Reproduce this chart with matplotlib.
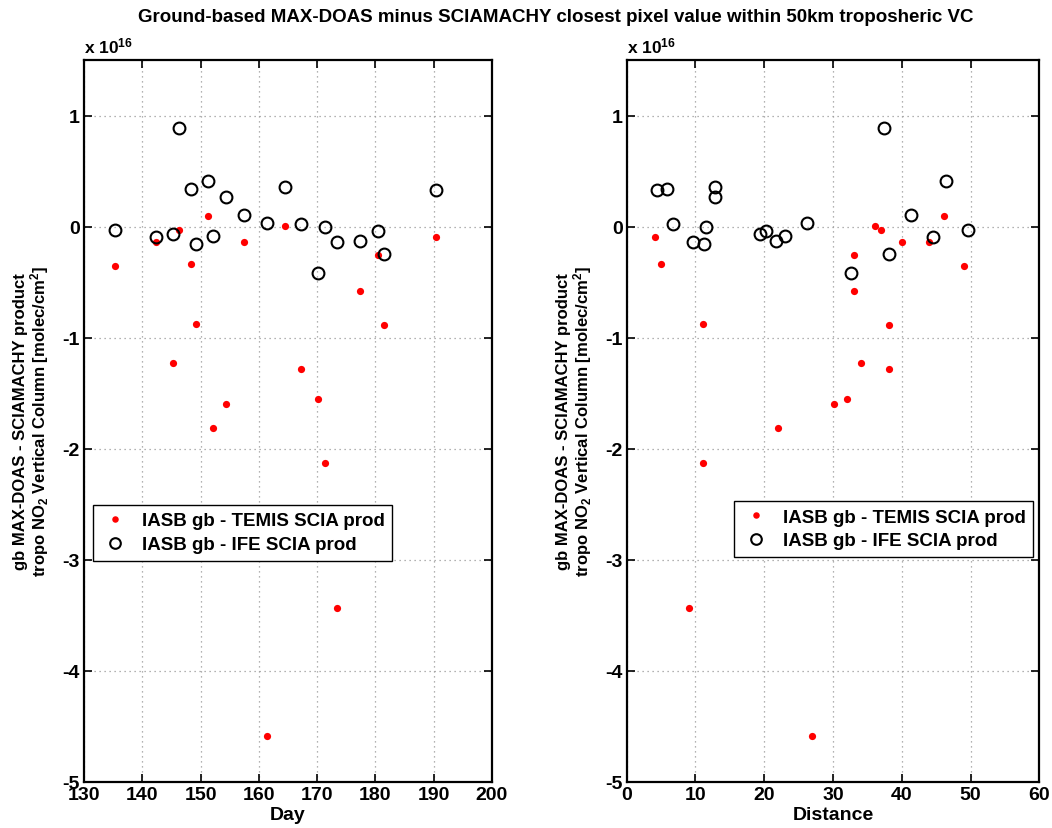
import matplotlib
matplotlib.use("Agg")
import matplotlib.pyplot as plt
import numpy as np

plt.rcParams['font.family'] = ['Liberation Sans', 'DejaVu Sans']
plt.rcParams['font.weight'] = 'bold'
plt.rcParams['axes.unicode_minus'] = False
plt.rcParams['mathtext.fontset'] = 'custom'
plt.rcParams['mathtext.rm'] = 'Liberation Sans:bold'
plt.rcParams['mathtext.bf'] = 'Liberation Sans:bold'
plt.rcParams['mathtext.it'] = 'Liberation Sans:bold'
plt.rcParams['mathtext.default'] = 'bf'

# ---- data (values in units of 1e16 molec/cm2) ----
days = [135.3, 142.35, 145.3, 146.35, 148.35, 149.3, 151.3, 152.2, 154.4, 157.4,
        161.45, 164.4, 167.3, 170.2, 171.3, 173.4, 177.4, 180.5, 181.4, 190.4]
temis_diff = [-0.357, -0.135, -1.23, -0.027, -0.34, -0.876, 0.096, -1.815, -1.593, -0.14,
              -4.587, 0.009, -1.285, -1.554, -2.13, -3.43, -0.58, -0.26, -0.885, -0.095]
ife_diff = [-0.03, -0.095, -0.07, 0.886, 0.34, -0.156, 0.41, -0.08, 0.27, 0.105,
            0.03, 0.355, 0.024, -0.417, 0.0, -0.14, -0.126, -0.036, -0.25, 0.33]
temis_dist = [49.05, 43.96, 34.07, 37.0, 5.04, 11.1, 46.14, 22.0, 30.2, 40.08,
              27.0, 36.06, 38.14, 32.03, 11.1, 9.06, 33.05, 33.05, 38.14, 4.11]
ife_dist = [49.68, 44.54, 19.38, 37.37, 5.9, 11.24, 46.43, 23.0, 12.77, 41.3,
            26.2, 12.84, 6.73, 32.57, 11.48, 9.69, 21.7, 20.3, 38.14, 4.45]

label_temis = 'IASB gb - TEMIS SCIA prod'
label_ife = 'IASB gb - IFE SCIA prod'
title = 'Ground-based MAX-DOAS minus SCIAMACHY closest pixel value within 50km troposheric VC'
ylabel = 'gb MAX-DOAS - SCIAMACHY product\ntropo NO$_2$ Vertical Column [molec/cm$^2$]'
yticks = [-5, -4, -3, -2, -1, 0, 1]
xticks_day = [130, 140, 150, 160, 170, 180, 190, 200]
xticks_dist = [0, 10, 20, 30, 40, 50, 60]

W, H = 1052, 829
fig = plt.figure(figsize=(W / 100, H / 100), dpi=100)
bottom = 1 - 783 / H
height = 722 / H
ax1 = fig.add_axes([84 / W, bottom, 408 / W, height])
ax2 = fig.add_axes([626.7 / W, bottom, 412.6 / W, height])

FS = 14

def style(ax, x_t, vals_t, x_i, vals_i, xlim, xticks, xlabel, leg_loc, leg_anchor):
    ax.plot(x_t, vals_t, 'o', color='#ff0000', markersize=5.2, markeredgewidth=0,
            linestyle='none', label=label_temis, zorder=3)
    ax.plot(x_i, vals_i, 'o', markerfacecolor='none', markeredgecolor='black',
            markersize=8.5, markeredgewidth=1.5, linestyle='none', label=label_ife, zorder=4)
    ax.set_xlim(*xlim)
    ax.set_ylim(-5, 1.5)
    ax.set_xticks(xticks)
    ax.set_xticklabels([str(t) for t in xticks])
    ax.set_yticks(yticks)
    ax.set_yticklabels([str(t) for t in yticks])
    ax.grid(True, linestyle=(0, (1, 3)), color='#999999', linewidth=0.9)
    ax.tick_params(direction='in', length=6, width=1.2, top=True, right=True,
                   labelsize=FS, pad=3)
    for lab in ax.get_xticklabels() + ax.get_yticklabels():
        lab.set_fontweight('bold')
    for sp in ax.spines.values():
        sp.set_linewidth(1.6)
    ax.set_xlabel(xlabel, fontsize=FS, fontweight='bold', labelpad=2)
    ax.set_ylabel(ylabel, fontsize=12, fontweight='bold', linespacing=1.0)
    ax.yaxis.set_label_coords(-0.08, 0.5)
    ax.text(0.0, 1.006, 'x 10$^{16}$', transform=ax.transAxes, fontsize=12.5,
            fontweight='bold', ha='left', va='bottom')
    leg = ax.legend(loc=leg_loc, bbox_to_anchor=leg_anchor, fancybox=False,
                    edgecolor='black', framealpha=1, prop={'size': 13.5, 'weight': 'bold'},
                    handletextpad=0.6, borderpad=0.4, labelspacing=0.35,
                    handlelength=1.6, markerscale=0.9, borderaxespad=0)
    leg.get_frame().set_linewidth(1.0)

style(ax1, days, temis_diff, days, ife_diff, (130, 200), xticks_day, 'Day',
      'upper left', (0.022, 0.384))
style(ax2, temis_dist, temis_diff, ife_dist, ife_diff, (0, 60), xticks_dist, 'Distance',
      'upper right', (0.985, 0.389))

fig.text(556 / W, 1 - 18 / H, title, ha='center', va='center', fontsize=13.5,
         fontweight='bold')

fig.savefig('out.png', dpi=100)
